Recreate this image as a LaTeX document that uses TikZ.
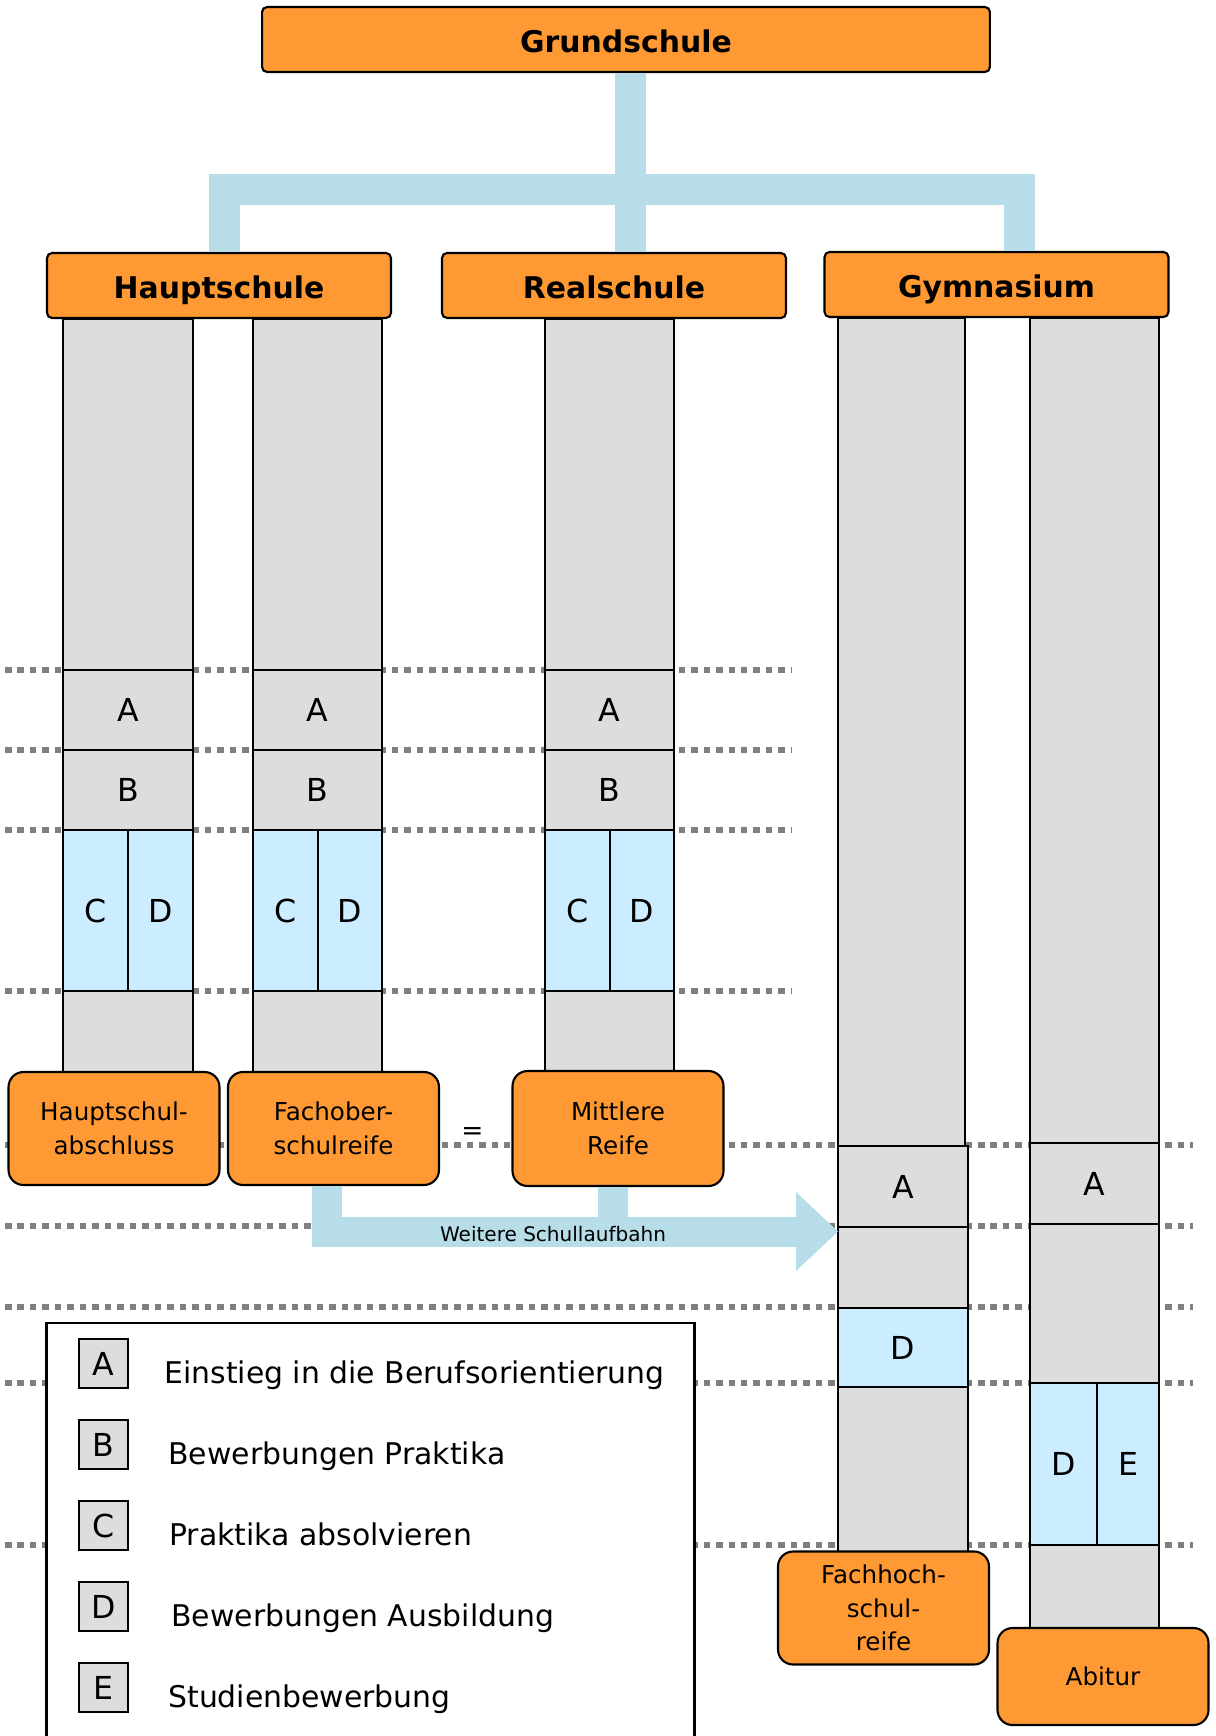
\documentclass[tikz,border=0pt]{standalone}
\usepackage{fontspec}
\setmainfont{DejaVu Sans}
\usepackage{tikz}
\usetikzlibrary{calc}

\definecolor{schulorange}{HTML}{FF9933}
\definecolor{bahnblau}{HTML}{B7DEE8}
\definecolor{stufegrau}{HTML}{DDDDDD}
\definecolor{stufeblau}{HTML}{CCECFF}
\definecolor{jahrgrau}{HTML}{808080}

\tikzset{
  schulart/.style={draw,fill=schulorange,rounded corners=0.1cm,line width=1.2pt,
    minimum width=6.88cm,minimum height=1.3cm,inner sep=0pt,
    text height=14.6pt,text depth=0pt,
    font=\bfseries\fontsize{17}{20}\selectfont},
  abschluss/.style={draw,fill=schulorange,rounded corners=0.3cm,line width=1.2pt,
    minimum width=4.22cm,minimum height=2.26cm,inner sep=0pt,align=center,
    font=\fontsize{14}{19}\selectfont},
  stufe/.style={draw,fill=stufegrau,line width=1.1pt},
  praxis/.style={draw,fill=stufeblau,line width=1.1pt},
  jahr/.style={draw=jahrgrau,line width=3pt,dash pattern=on 3.7pt off 3.4pt},
  bahn/.style={draw=bahnblau,line width=0.62cm,line join=miter},
  buchstabe/.style={font=\fontsize{18}{20}\selectfont},
  legende/.style={draw,fill=stufegrau,line width=1.2pt,minimum size=0.98cm,
    inner sep=0pt,font=\fontsize{18}{20}\selectfont},
  erklaerung/.style={anchor=base west,inner sep=0pt,font=\fontsize{17}{20}\selectfont},
}

\begin{document}
\begin{tikzpicture}[x=0.02cm,y=-0.02cm]
        \useasboundingbox (0,0) rectangle (1215,1736);

        % Year lines
        \draw [jahr] (5,670) -- (792,670);
        \draw [jahr] (5,750) -- (792,750);
        \draw [jahr] (5,830) -- (792,830);
        \draw [jahr] (5,991) -- (792,991);
        \draw [jahr] (5,1145) -- (1193,1145);
        \draw [jahr] (5,1226) -- (1193,1226);
        \draw [jahr] (5,1307) -- (1193,1307);
        \draw [jahr] (5,1383) -- (1193,1383);
        \draw [jahr] (5,1545) -- (1193,1545);

        % School types
        \node [schulart,minimum width=14.56cm] (grund) at (626,39.5) {Grundschule};
        \node [schulart] (haupt) at (219,285.5) {Hauptschule};
        \node [schulart] (real) at (614,285.5) {Realschule};
        \node [schulart] (gym) at (996.5,284.5) {Gymnasium};

        \coordinate (knoten) at (630,189.5);
        \draw [bahn] ($(grund.south)+(4,0)$) -- ($(real.north)+(16,0)$);
        \draw [bahn] ($(haupt.north)+(5,0)$) |- (knoten) -| ($(gym.north)+(22.5,0)$);

        % Hauptschule, left column
        \path [stufe] (63,319) rectangle (193,670);
        \path [stufe] (63,670) rectangle (193,750);
        \path [stufe] (63,750) rectangle (193,830);
        \path [praxis] (63,830) rectangle (128,991);
        \path [praxis] (128,830) rectangle (193,991);
        \path [stufe] (63,991) rectangle (193,1074);
        \node [buchstabe] (h1a) at (128,710) {A};
        \node [buchstabe] (h1b) at (128,790) {B};
        \node [buchstabe] (h1c) at (95.5,910.5) {C};
        \node [buchstabe] (h1d) at (160.5,910.5) {D};

        % Hauptschule, right column
        \path [stufe] (253,319) rectangle (382,670);
        \path [stufe] (253,670) rectangle (382,750);
        \path [stufe] (253,750) rectangle (382,830);
        \path [praxis] (253,830) rectangle (318,991);
        \path [praxis] (318,830) rectangle (382,991);
        \path [stufe] (253,991) rectangle (382,1074);
        \node [buchstabe] (h2a) at (317.5,710) {A};
        \node [buchstabe] (h2b) at (317.5,790) {B};
        \node [buchstabe] (h2c) at (285.5,910.5) {C};
        \node [buchstabe] (h2d) at (350,910.5) {D};

        % Realschule
        \path [stufe] (545,319) rectangle (674,670);
        \path [stufe] (545,670) rectangle (674,750);
        \path [stufe] (545,750) rectangle (674,830);
        \path [praxis] (545,830) rectangle (610,991);
        \path [praxis] (610,830) rectangle (674,991);
        \path [stufe] (545,991) rectangle (674,1073);
        \node [buchstabe] (ra) at (609.5,710) {A};
        \node [buchstabe] (rb) at (609.5,790) {B};
        \node [buchstabe] (rc) at (577.5,910.5) {C};
        \node [buchstabe] (rd) at (642,910.5) {D};

        % Gymnasium, left column
        \path [stufe] (838,318) rectangle (965,1146);
        \path [stufe] (838,1146) rectangle (968,1227);
        \path [stufe] (838,1227) rectangle (968,1308);
        \path [praxis] (838,1308) rectangle (968,1387);
        \path [stufe] (838,1387) rectangle (968,1553);
        \node [buchstabe] (g1a) at (903,1186.5) {A};
        \node [buchstabe] (g1d) at (903,1347.5) {D};

        % Gymnasium, right column
        \path [stufe] (1030,318) rectangle (1159,1143);
        \path [stufe] (1030,1143) rectangle (1159,1224);
        \path [stufe] (1030,1224) rectangle (1159,1383);
        \path [praxis] (1030,1383) rectangle (1097,1545);
        \path [praxis] (1097,1383) rectangle (1159,1545);
        \path [stufe] (1030,1545) rectangle (1159,1630);
        \node [buchstabe] (g2a) at (1094.5,1183.5) {A};
        \node [buchstabe] (g2d) at (1063.5,1464) {D};
        \node [buchstabe] (g2e) at (1128,1464) {E};

        % Qualifications
        \node [abschluss] (hsa) at (114,1128.5) {Hauptschul-\\abschluss};
        \node [abschluss] (fos) at (333.5,1128.5) {Fachober-\\schulreife};
        \node [abschluss,minimum height=2.3cm] (mr) at (618,1128.5) {Mittlere\\Reife};
        \node [abschluss] (fhr) at (883.5,1608) {Fachhoch-\\schul-\\reife};
        \node [abschluss,minimum height=1.94cm] (abi) at (1103,1676.5) {Abitur};
        \node [font=\fontsize{15}{18}\selectfont,inner sep=0pt] (gleich) at (472.5,1134) {=};

        % Further path
        \coordinate (spitze) at (838,1231.5);
        \draw [bahn,line width=0.6cm] ($(fos.south)+(-6.5,0)$) |- ($(spitze)+(-41,0)$);
        \draw [bahn,line width=0.6cm] ($(mr.south)+(-5.5,0)$) -- ++(0,45);
        \fill [bahnblau] ($(spitze)+(-42,-39.5)$) -- (spitze) -- ($(spitze)+(-42,39.5)$) -- cycle;
        \node [font=\fontsize{11.4}{14}\selectfont] (weiter) at (553,1234) {Weitere Schullaufbahn};

        % Legend
        \path [fill=white] (46.5,1323) rectangle (694.5,1736);
        \draw [line width=1.2pt] (46.5,1736) -- (46.5,1323) -- (694.5,1323) -- (694.5,1736);
        \node [legende] (la) at (103.5,1363.5) {A};
        \node [legende] (lb) at (103.5,1444.5) {B};
        \node [legende] (lc) at (103.5,1525.5) {C};
        \node [legende] (ld) at (103.5,1606.5) {D};
        \node [legende] (le) at (103.5,1687.5) {E};
        \node [erklaerung] (ta) at (164,1383.5) {Einstieg in die Berufsorientierung};
        \node [erklaerung] (tb) at (168,1464.5) {Bewerbungen Praktika};
        \node [erklaerung] (tc) at (169,1545.5) {Praktika absolvieren};
        \node [erklaerung] (td) at (171,1626.5) {Bewerbungen Ausbildung};
        \node [erklaerung] (te) at (168,1707.5) {Studienbewerbung};
    \end{tikzpicture}
\end{document}
